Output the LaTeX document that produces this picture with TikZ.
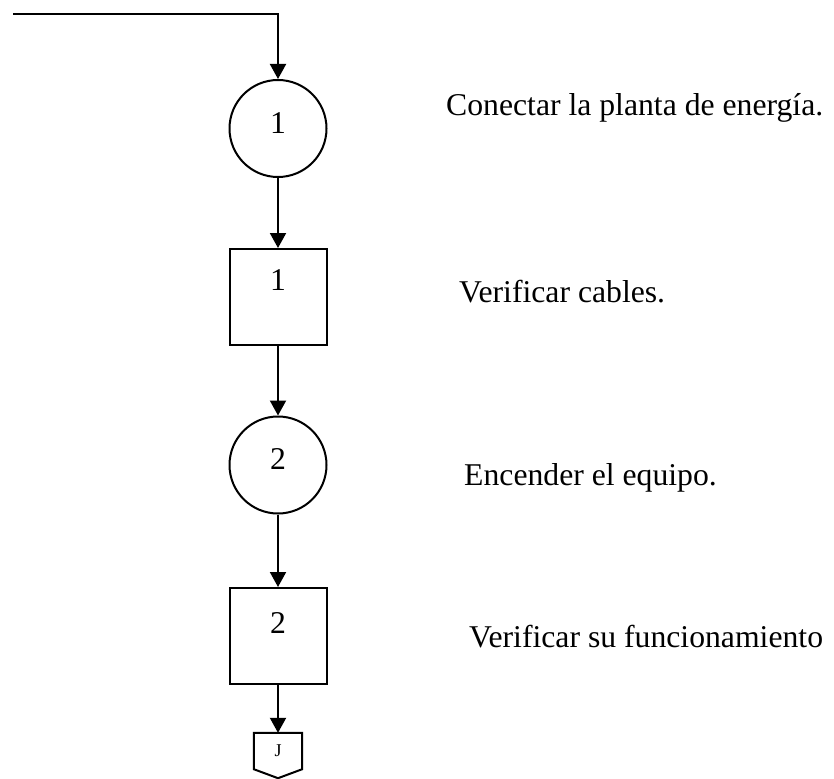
\documentclass[tikz,border=0pt]{standalone}
\usepackage{fontspec}
\setmainfont{Liberation Serif}
\usetikzlibrary{arrows.meta,calc}

\tikzset{
  flow/.style={line width=2pt, -{Triangle[width=16pt,length=15pt]}},
  opcircle/.style={circle, draw, line width=2pt, minimum size=97pt, inner sep=0pt},
  inspbox/.style={rectangle, draw, line width=2pt, minimum width=97pt, minimum height=96pt, inner sep=0pt},
  offpage/.style={rectangle, minimum width=48pt, minimum height=36pt, inner sep=0pt, font=\fontsize{18}{20}\selectfont},
  stepnote/.style={anchor=base west, inner sep=0pt, font=\fontsize{31.7}{38}\selectfont},
  numtext/.style={font=\fontsize{31.7}{38}\selectfont}
}

\begin{document}
\begin{tikzpicture}[x=1pt, y=-1pt]
  \useasboundingbox (0,0) rectangle (834,778);

  % incoming line
  \coordinate (in) at (13,14);

  % process chain
  \node[opcircle, label={[numtext, yshift=5pt]center:1}] (c1) at (278,128.5) {};
  \node[inspbox, label={[numtext, yshift=17pt]center:1}] (s1) at (278,297) {};
  \node[opcircle, label={[numtext, yshift=6pt]center:2}] (c2) at (278,465) {};
  \node[inspbox, label={[numtext, yshift=13pt]center:2}] (s2) at (278,636) {};
  \node[offpage] (j) at (278,751) {J};
  \draw[line width=2pt, line join=miter]
    (j.south west) -- (j.north west) -- (j.north east) -- (j.south east)
    -- ($(j.south)+(0,9)$) -- cycle;

  % connectors
  \draw[flow] (in) -| (c1);
  \draw[flow] (c1) -- (s1);
  \draw[flow] (s1) -- (c2);
  \draw[flow] (c2) -- (s2);
  \draw[flow] (s2) -- (j);

  % descriptions
  \node[stepnote] (t1) at (446,116) {Conectar la planta de energía.};
  \node[stepnote] (t2) at (459,302) {Verificar cables.};
  \node[stepnote] (t3) at (464,485) {Encender el equipo.};
  \node[stepnote] (t4) at (469,647) {Verificar su funcionamiento};
\end{tikzpicture}
\end{document}
